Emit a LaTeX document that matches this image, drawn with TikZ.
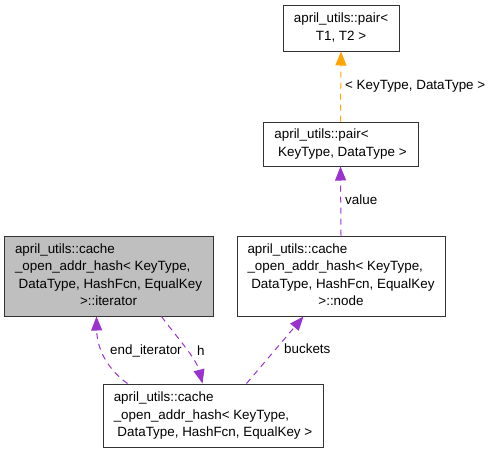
\documentclass[tikz,border=0pt]{standalone}
\usepackage{fontspec}
\setmainfont{Liberation Sans}
\usetikzlibrary{arrows.meta}
\definecolor{usecol}{HTML}{9A32CD}
\definecolor{tplcol}{HTML}{FFA500}
\definecolor{boxfill}{HTML}{BFBFBF}
\definecolor{boxline}{HTML}{333333}
\newcommand{\lsp}{\hspace*{0.278em}}
\begin{document}
\begin{tikzpicture}[x=1pt,y=-1pt,
  every node/.style={font=\fontsize{13.4}{17.5}\selectfont},
  cls/.style={draw=boxline, line width=1pt, fill=white, inner sep=0pt, anchor=center},
  hl/.style={cls, fill=boxfill},
  lbl/.style={anchor=west, inner sep=0pt},
  usage/.style={draw=usecol, line width=1pt, dash pattern=on 6pt off 5pt,
    -{Triangle[length=14pt,width=11pt,fill=usecol]}},
  tpl/.style={draw=tplcol, line width=1pt, dash pattern=on 6pt off 5pt,
    -{Triangle[length=14pt,width=11pt,fill=tplcol]}}]
\useasboundingbox (0,0) rectangle (492,453);
\node[cls, minimum width=116pt, minimum height=46pt] (pairT) at (341,28)
  {\begin{tabular}{@{}l@{}}april\_utils::pair<\\ \multicolumn{1}{@{}c@{}}{T1, T2 >}\end{tabular}};
\node[cls, minimum width=155pt, minimum height=44pt] (pairKD) at (340.5,144)
  {\begin{tabular}{@{}l@{}}april\_utils::pair<\\ \multicolumn{1}{@{}c@{}}{\lsp KeyType, DataType >}\end{tabular}};
\node[cls, minimum width=208pt, minimum height=80pt] (nodecls) at (341,276)
  {\begin{tabular}{@{}l@{}}april\_utils::cache\\ \_open\_addr\_hash< KeyType,\\ \lsp DataType, HashFcn, EqualKey\\ \multicolumn{1}{@{}c@{}}{>::node}\end{tabular}};
\node[hl, minimum width=209pt, minimum height=80pt] (iter) at (108.5,276)
  {\begin{tabular}{@{}l@{}}april\_utils::cache\\ \_open\_addr\_hash< KeyType,\\ \lsp DataType, HashFcn, EqualKey\\ \multicolumn{1}{@{}c@{}}{>::iterator}\end{tabular}};
\node[cls, minimum width=220pt, minimum height=63pt] (main) at (213,415.5)
  {\begin{tabular}{@{}l@{}}april\_utils::cache\\ \_open\_addr\_hash< KeyType,\\ \multicolumn{1}{@{}c@{}}{\lsp DataType, HashFcn, EqualKey >}\end{tabular}};
\draw[tpl] (pairKD.north) -- (pairT.south);
\draw[usage] (nodecls.north) -- (pairKD.south);
\draw[usage] ([xshift=144pt]main.north west) -- ([xshift=67pt]nodecls.south west);
\draw[usage] ([xshift=25pt]main.north west) .. controls (111,372) and (97,352) .. ([xshift=93pt]iter.south west);
\draw[usage] ([xshift=158pt]iter.south west) .. controls (175,335) and (196,358) .. ([xshift=100pt]main.north west);
\node[lbl] (ltpl) at (345,86) {< KeyType, DataType >};
\node[lbl] (lvalue) at (345,200) {value};
\node[lbl] (lbuckets) at (284,349) {buckets};
\node[lbl] (lend) at (110,351) {end\_iterator};
\node[lbl] (lh) at (197,351) {h};
\end{tikzpicture}
\end{document}
